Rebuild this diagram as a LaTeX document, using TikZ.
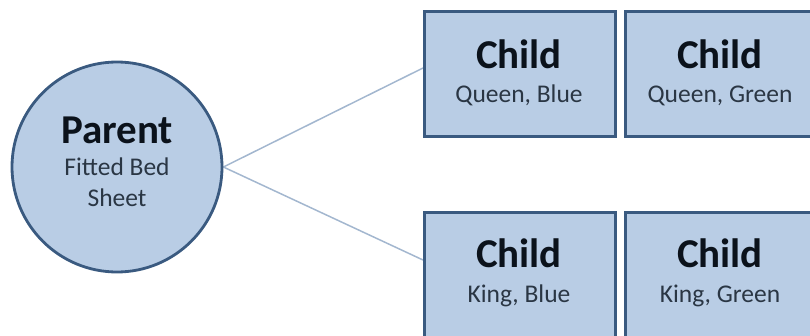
\documentclass[tikz,border=0pt]{standalone}
\usepackage{fontspec}
\setmainfont{Carlito}
\usetikzlibrary{backgrounds}
\definecolor{boxfill}{HTML}{B9CDE5}
\definecolor{boxline}{HTML}{3A5A80}
\definecolor{linkcol}{HTML}{A3B7CF}
\definecolor{titlecol}{HTML}{0B121B}
\definecolor{subcol}{HTML}{2A3644}
\begin{document}
\begin{tikzpicture}[x=1pt,y=-1pt,
  shapebox/.style={draw=boxline,fill=boxfill,line width=2.8pt,minimum width=191pt,minimum height=125pt,inner sep=0pt,anchor=north west},
  parentshape/.style={circle,draw=boxline,fill=boxfill,line width=2.8pt,minimum size=210pt,inner sep=0pt},
  title/.style={font=\bfseries\fontsize{41}{41}\selectfont,text=titlecol,anchor=base,inner sep=0pt},
  sub/.style={font=\fontsize{25.5}{25.5}\selectfont,text=subcol,anchor=base,inner sep=0pt},
  link/.style={draw=linkcol,line width=1.5pt}]
\useasboundingbox (0,0) rectangle (810,335);
\clip (0,0) rectangle (810,335);
\node[parentshape] (parent) at (117,167) {};
\node[shapebox] (qb) at (423,10) {};
\node[shapebox] (qg) at (624,10) {};
\node[shapebox] (kb) at (423,211) {};
\node[shapebox] (kg) at (624,211) {};
\path (qb.north west) ++(0,58) coordinate (qbin);
\path (kb.north west) ++(0,49) coordinate (kbin);
\begin{scope}[on background layer]
\draw[link] (parent.east) -- (qbin);
\draw[link] (parent.east) -- (kbin);
\end{scope}
% texts
\node[title] (ptitle) at (117,143) {Parent};
\node[sub] (ptext1) at (117,175) {Fitted Bed};
\node[sub] (ptext2) at (117,206) {Sheet};
\node[title] (qbt) at (519,68) {Child};
\node[sub] (qbs) at (519,102) {Queen, Blue};
\node[title] (qgt) at (720,68) {Child};
\node[sub] (qgs) at (720,102) {Queen, Green};
\node[title] (kbt) at (519,267) {Child};
\node[sub] (kbs) at (519,302) {King, Blue};
\node[title] (kgt) at (720,267) {Child};
\node[sub] (kgs) at (720,302) {King, Green};
\end{tikzpicture}
\end{document}
